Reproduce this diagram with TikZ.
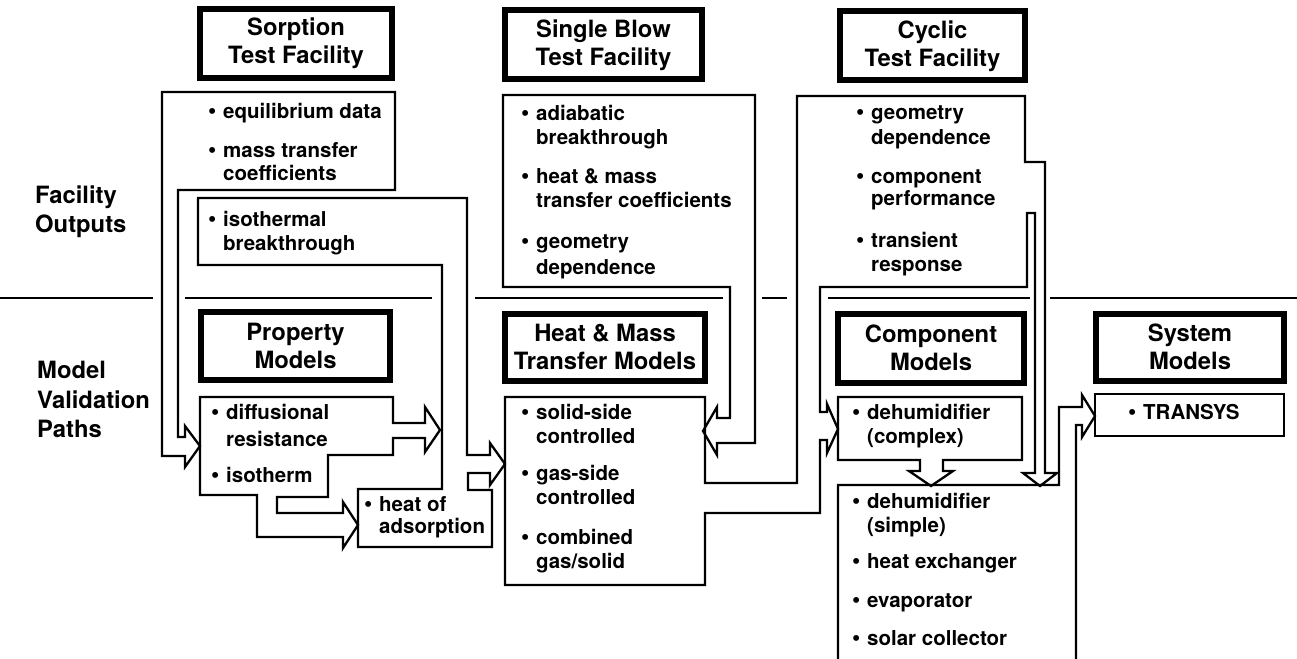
\documentclass[tikz,border=0pt]{standalone}
\usepackage{fontspec}
\setmainfont{TeX Gyre Heros}
\usepackage{tikz}
\newcommand\hdrfont{\fontsize{23.8}{28}\selectfont\bfseries}
\newcommand\txtfont{\fontsize{20.5}{23}\selectfont\bfseries}
\newcommand\bult{\makebox[14pt][l]{\hspace{-1pt}\scalebox{1.15}{\textbullet}}}

\begin{document}
\begin{tikzpicture}[x=1pt,y=-1pt,
    hdr/.style={draw,line width=6pt,align=center,inner sep=0pt,font=\hdrfont},
    txt/.style={anchor=base west,inner sep=0pt,font=\txtfont},
    lbl/.style={anchor=base west,inner sep=0pt,font=\hdrfont},
    wall/.style={line width=2.3pt,line join=miter}]
\useasboundingbox (0,0) rectangle (1297,658);

% Row labels
\node[lbl] (fo1) at (35,203) {Facility};
\node[lbl] (fo2) at (35,232) {Outputs};
\node[lbl] (mv1) at (37,378) {Model};
\node[lbl] (mv2) at (37,408) {Validation};
\node[lbl] (mv3) at (37,437) {Paths};

% Separator (broken where the paths cross)
\draw[wall] (0,298) -- (153,298) (185,298) -- (432,298) (475,298) -- (723,298)
  (762,298) -- (787,298) (828,298) -- (1030,298) (1050,298) -- (1297,298);

% Facility boxes
\node[hdr, minimum width=192, minimum height=69] (sorp) at (296,43.5) {Sorption\\Test Facility};
\node[hdr, minimum width=197, minimum height=69] (sblow) at (603.5,45) {Single Blow\\Test Facility};
\node[hdr, minimum width=185, minimum height=69] (cycl) at (932.5,46) {Cyclic\\Test Facility};

% Model boxes
\node[hdr, minimum width=189, minimum height=68] (prop) at (295.5,345.5) {Property\\Models};
\node[hdr, minimum width=200, minimum height=67] (hmt) at (605,347) {Heat \& Mass\\Transfer Models};
\node[hdr, minimum width=186, minimum height=69] (comp) at (931,348) {Component\\Models};
\node[hdr, minimum width=188, minimum height=67] (syst) at (1190,347) {System\\Models};

% Sorption outputs -> property models
\draw[wall] (185,437) -- (185,426) -- (200,446) -- (185,467) -- (185,456) -- (162,456)
  -- (162,92) -- (395,92) -- (395,190) -- (178,190) -- (178,437) -- cycle;
% isothermal breakthrough + heat of adsorption -> heat & mass
\draw[wall] (198,198) -- (467,198) -- (467,455) -- (490,455) -- (490,443) -- (505,464)
  -- (490,485) -- (490,473) -- (468,473) -- (468,490) -- (492,490) -- (492,547)
  -- (358,547) -- (358,489) -- (442,489) -- (442,265) -- (198,265) -- cycle;
% property model items
\draw[wall] (200,397) -- (393,397) -- (393,423) -- (425,423) -- (425,407) -- (440,430)
  -- (425,452) -- (425,438) -- (393,438) -- (393,455) -- (328,455) -- (328,497)
  -- (277,497) -- (277,513) -- (343,513) -- (343,502) -- (358,525) -- (343,548)
  -- (343,537) -- (257,537) -- (257,495) -- (200,495) -- cycle;
% Single blow outputs -> heat & mass
\draw[wall] (503,95) -- (755,95) -- (755,443) -- (717,443) -- (717,455) -- (703,431)
  -- (717,407) -- (717,418) -- (730,418) -- (730,287) -- (503,287) -- cycle;
% heat & mass items + cyclic outputs -> component models
\draw[wall] (505,397) -- (705,397) -- (705,483) -- (797,483) -- (797,96) -- (1025,96)
  -- (1025,162) -- (1045,162) -- (1045,473) -- (1057,473) -- (1040,486) -- (1023,473)
  -- (1035,473) -- (1035,213) -- (1027,213) -- (1027,287) -- (820,287) -- (820,412)
  -- (827,412) -- (827,404) -- (838,429) -- (827,453) -- (827,440) -- (820,440)
  -- (820,513) -- (705,513) -- (705,585) -- (505,585) -- cycle;
% complex dehumidifier -> simple models
\draw[wall] (838,397) -- (1022,397) -- (1022,460) -- (943,460) -- (943,471) -- (953,471)
  -- (931,486) -- (909,471) -- (920,471) -- (920,460) -- (838,460) -- cycle;
% simple models -> system models
\draw[wall] (838,665) -- (838,485) -- (1059,485) -- (1059,407) -- (1082,407) -- (1082,395)
  -- (1095,416) -- (1082,437) -- (1082,425) -- (1076,425) -- (1076,665);
\draw[wall] (1095,394) rectangle (1284,436);

% Sorption items
\node[txt] (so1) at (209,119) {\bult equilibrium data};
\node[txt] (so2) at (209,157) {\bult mass transfer};
\node[txt] (so3) at (223,180) {coefficients};
\node[txt] (so4) at (209,226) {\bult isothermal};
\node[txt] (so5) at (223,250) {breakthrough};

% Single blow items
\node[txt] (sb1) at (522,121) {\bult adiabatic};
\node[txt] (sb2) at (536,144) {breakthrough};
\node[txt] (sb3) at (522,183) {\bult heat \& mass};
\node[txt] (sb4) at (536,207) {transfer coefficients};
\node[txt] (sb5) at (522,248) {\bult geometry};
\node[txt] (sb6) at (536,274) {dependence};

% Cyclic items
\node[txt] (cy1) at (857,120) {\bult geometry};
\node[txt] (cy2) at (871,144) {dependence};
\node[txt] (cy3) at (857,183) {\bult component};
\node[txt] (cy4) at (871,205) {performance};
\node[txt] (cy5) at (857,247) {\bult transient};
\node[txt] (cy6) at (871,271) {response};

% Property items
\node[txt] (pm1) at (212,419) {\bult diffusional};
\node[txt] (pm2) at (226,446) {resistance};
\node[txt] (pm3) at (212,482) {\bult isotherm};
\node[txt] (pm4) at (365,511) {\bult heat of};
\node[txt] (pm5) at (379,533) {adsorption};

% Heat & mass items
\node[txt] (hm1) at (522,419) {\bult solid-side};
\node[txt] (hm2) at (536,443) {controlled};
\node[txt] (hm3) at (522,480) {\bult gas-side};
\node[txt] (hm4) at (536,504) {controlled};
\node[txt] (hm5) at (522,544) {\bult combined};
\node[txt] (hm6) at (536,568) {gas/solid};

% Component items
\node[txt] (cm1) at (853,419) {\bult dehumidifier};
\node[txt] (cm2) at (867,443) {(complex)};
\node[txt] (sm1) at (853,508) {\bult dehumidifier};
\node[txt] (sm2) at (867,532) {(simple)};
\node[txt] (sm3) at (853,568) {\bult heat exchanger};
\node[txt] (sm4) at (853,607) {\bult evaporator};
\node[txt] (sm5) at (853,645) {\bult solar collector};

% System items
\node[txt] (ts1) at (1129,419) {\bult TRANSYS};
\end{tikzpicture}
\end{document}
